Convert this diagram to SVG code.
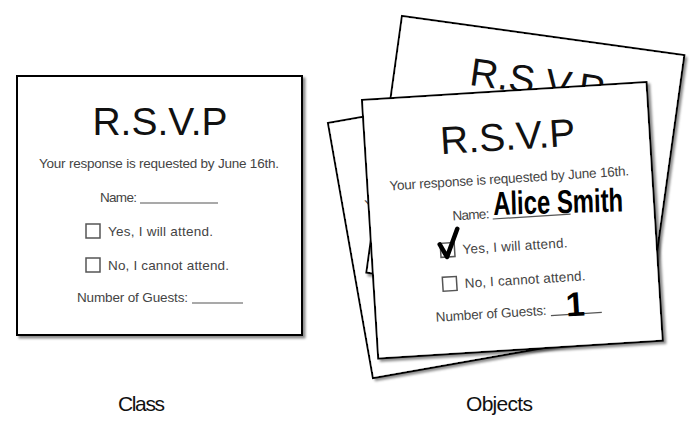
<svg xmlns="http://www.w3.org/2000/svg" xmlns:xlink="http://www.w3.org/1999/xlink" width="694" height="427" viewBox="0 0 694 427">
<style>
.card{fill:#fff;stroke:#000;stroke-width:2;filter:url(#sh)}
.title{font-family:"Liberation Sans",Arial,sans-serif;font-size:39px;fill:#111}
.body{font-family:"Liberation Sans",Arial,sans-serif;font-size:13.5px;fill:#444}
.box{fill:#fff;stroke:#555;stroke-width:1.5}
.rule{stroke:#555;stroke-width:1.2}
.hand{font-family:"Liberation Sans",Arial,sans-serif;font-weight:bold;fill:#000}
.label{font-family:"Liberation Sans",Arial,sans-serif;font-size:21px;fill:#111}
</style>
<defs>
<filter id="sh" x="-5%" y="-5%" width="115%" height="115%">
<feDropShadow dx="2.5" dy="2.5" stdDeviation="1" flood-color="#000" flood-opacity="0.45"/>
</filter>
<g id="card-content">
<rect class="card" x="0" y="0" width="285" height="259"/>
<text class="title" x="143" y="59" text-anchor="middle">R.S.V.P</text>
<text class="body" x="22" y="92" textLength="240">Your response is requested by June 16th.</text>
<text class="body" x="83" y="126" textLength="37">Name:</text>
<line class="rule" x1="123" y1="127" x2="201" y2="127"/>
<rect class="box" x="69" y="148" width="14" height="14"/>
<text class="body" x="91" y="160" textLength="105">Yes, I will attend.</text>
<rect class="box" x="69" y="182" width="14" height="14"/>
<text class="body" x="91" y="194" textLength="121">No, I cannot attend.</text>
<text class="body" x="60" y="226" textLength="111">Number of Guests:</text>
<line class="rule" x1="175" y1="227" x2="226" y2="227"/>
</g>
</defs>
<g id="class-card" transform="translate(17,76)">
<use xlink:href="#card-content"/>
</g>
<g id="object-card-3" transform="translate(328,123) rotate(-10)">
<use xlink:href="#card-content"/>
</g>
<g id="object-card-2" transform="translate(402,16) rotate(7.9)">
<use xlink:href="#card-content"/>
</g>
<g id="object-card-1" transform="translate(362,100) rotate(-3.6)">
<use xlink:href="#card-content"/>
<text class="hand" x="124" y="123" font-size="33" textLength="130" lengthAdjust="spacingAndGlyphs" transform="rotate(2,124,123)">Alice Smith</text>
<path d="M68.5 149 L75 162 L87 134.5" fill="none" stroke="#000" stroke-width="4.5" stroke-linecap="round" stroke-linejoin="round"/>
<text class="hand" x="200" y="229" font-size="34" text-anchor="middle">1</text>
</g>
<g id="connectors"/>
<g id="label-class"><text class="label" x="118" y="411" textLength="47">Class</text></g>
<g id="label-objects"><text class="label" x="466" y="411" textLength="67">Objects</text></g>
</svg>
